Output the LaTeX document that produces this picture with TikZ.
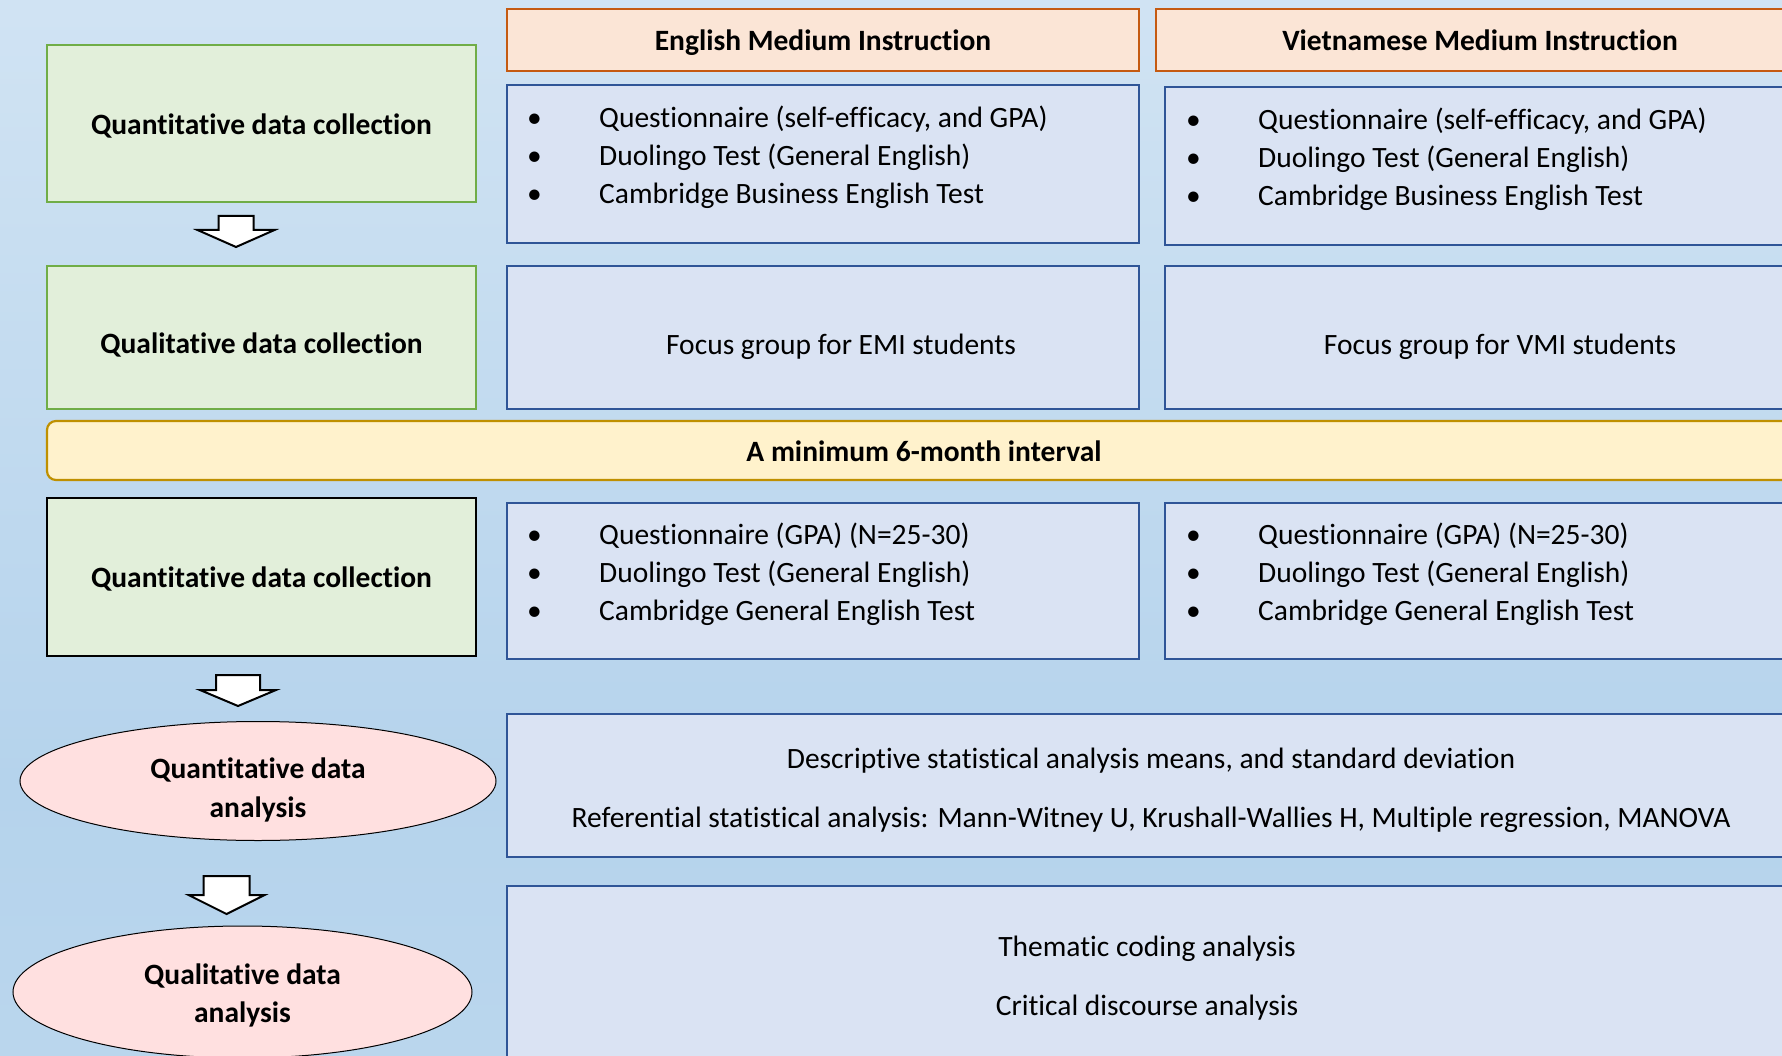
\documentclass[tikz,border=0pt]{standalone}
\usepackage{fontspec}
\setmainfont{Carlito}[Ligatures=NoCommon]
\usetikzlibrary{shapes.geometric}
\definecolor{bgtop}{HTML}{E3EEF8}
\definecolor{bgmid}{HTML}{B5D3EC}
\definecolor{bgbot}{HTML}{C3DCF0}
\definecolor{gfill}{HTML}{E2EFDA}
\definecolor{gline}{HTML}{70AD47}
\definecolor{ofill}{HTML}{FBE5D6}
\definecolor{oline}{HTML}{C55A11}
\definecolor{bfill}{HTML}{DAE3F3}
\definecolor{bline}{HTML}{2F5597}
\definecolor{yfill}{HTML}{FFF2CC}
\definecolor{yline}{HTML}{BF9000}
\definecolor{pfill}{HTML}{FFE0E0}
\pgfdeclareverticalshading{bgshade}{100bp}{color(0bp)=(bgbot); color(38bp)=(bgmid); color(100bp)=(bgtop)}
\newcommand{\fsz}{\fontsize{29.5}{38}\selectfont}
\newcommand{\blockarrow}[6]{% cx, top, wingy, tipy, stemhalf, headhalf
  \draw[arrowsty] (#1-#5,#2) -- (#1+#5,#2) -- (#1+#5,#3) -- (#1+#6,#3) -- (#1,#4) -- (#1-#6,#3) -- (#1-#5,#3) -- cycle;}
\begin{document}
\begin{tikzpicture}[x=1pt,y=-1pt,
  greenbox/.style={draw=gline, fill=gfill, line width=1.3pt, minimum width=429, minimum height=#1, font=\bfseries\fsz, inner sep=0, text height=21.5pt, text depth=0pt},
  headbox/.style={draw=oline, fill=ofill, line width=2pt, minimum height=62, font=\bfseries\fsz, inner sep=0, text height=21.5pt, text depth=0pt},
  bluebox/.style={draw=bline, fill=bfill, line width=2.2pt, inner sep=0},
  txt/.style={font=\fsz, inner sep=0},
  stxt/.style={font=\fsz, inner sep=0, text height=19pt, text depth=0pt},
  btxt/.style={font=\bfseries\fsz, inner sep=0, align=center},
  pinkell/.style={ellipse, draw=black, fill=pfill, line width=1pt, inner sep=0},
  arrowsty/.style={draw=black, fill=white, line width=2pt, line join=miter},
  listtab/.style={txt, anchor=west}
]
\useasboundingbox (0,0) rectangle (1782,1056);
\clip (0,0) rectangle (1782,1056);
\fill[shading=bgshade] (0,0) rectangle (1782,1056);

% left column
\node[greenbox=157] (qn1) at (261.5,123.5) {Quantitative data collection};
\node[greenbox=143, text height=32.5pt] (ql1) at (261.5,337.5) {Qualitative data collection};
\node[greenbox=158, draw=black] (qn2) at (261.5,577) {Quantitative data collection};

% headers
\node[headbox, minimum width=632] (emih) at (823,40) {English Medium Instruction};
\node[headbox, minimum width=648] (vmih) at (1480,40) {Vietnamese Medium Instruction};

% list boxes row 1
\node[bluebox, minimum width=632, minimum height=158] (emi1) at (823,164) {};
\node[bluebox, minimum width=640, minimum height=158] (vmi1) at (1485,166) {};
\node[listtab] (emi1t) at (527,157.5) {\begin{tabular}{@{}p{72pt}@{}l@{}}\textbullet & Questionnaire (self-efficacy, and GPA)\\ \textbullet & Duolingo Test (General English)\\ \textbullet & Cambridge Business English Test\end{tabular}};
\node[listtab] (vmi1t) at (1186,159.5) {\begin{tabular}{@{}p{72pt}@{}l@{}}\textbullet & Questionnaire (self-efficacy, and GPA)\\ \textbullet & Duolingo Test (General English)\\ \textbullet & Cambridge Business English Test\end{tabular}};

% focus groups
\node[bluebox, minimum width=632, minimum height=143] (emif) at (823,337.5) {};
\node[bluebox, minimum width=640, minimum height=143] (vmif) at (1485,337.5) {};
\node[stxt] (emift) at (841,345.5) {Focus group for EMI students};
\node[stxt] (vmift) at (1500,345.5) {Focus group for VMI students};

% interval
\node[draw=yline, fill=yfill, line width=2.2pt, rounded corners=9pt, minimum width=1754, minimum height=59, inner sep=0] (intv) at (924,450.5) {};
\node[btxt, text height=21.5pt, text depth=0pt] (intvt) at (924,451) {A minimum 6-month interval};

% list boxes row 2
\node[bluebox, minimum width=632, minimum height=156] (emi2) at (823,581) {};
\node[bluebox, minimum width=640, minimum height=156] (vmi2) at (1485,581) {};
\node[listtab] (emi2t) at (527,574.5) {\begin{tabular}{@{}p{72pt}@{}l@{}}\textbullet & Questionnaire (GPA) (N=25-30)\\ \textbullet & Duolingo Test (General English)\\ \textbullet & Cambridge General English Test\end{tabular}};
\node[listtab] (vmi2t) at (1186,574.5) {\begin{tabular}{@{}p{72pt}@{}l@{}}\textbullet & Questionnaire (GPA) (N=25-30)\\ \textbullet & Duolingo Test (General English)\\ \textbullet & Cambridge General English Test\end{tabular}};

% analysis boxes
\node[bluebox, minimum width=1288, minimum height=143] (ana1) at (1151,785.5) {};
\node[txt, align=center, font=\fontsize{29.5}{59}\selectfont] (ana1t) at (1151,790) {Descriptive statistical analysis means, and standard deviation\\Referential statistical analysis: Mann-Witney U, Krushall-Wallies H, Multiple regression, MANOVA};
\node[bluebox, minimum width=1288, minimum height=214] (ana2) at (1151,993) {};
\node[txt, align=center, font=\fontsize{29.5}{59}\selectfont] (ana2t) at (1147,978) {Thematic coding analysis\\Critical discourse analysis};

% ellipses
\node[pinkell, minimum width=476, minimum height=119] (e1) at (258,781) {};
\node[btxt, font=\bfseries\fontsize{29.5}{39}\selectfont] (e1t) at (258,790) {Quantitative data\\analysis};
\node[pinkell, minimum width=459, minimum height=132] (e2) at (242.5,992) {};
\node[btxt, font=\bfseries\fontsize{29.5}{38}\selectfont] (e2t) at (242.5,995.5) {Qualitative data\\analysis};

% block arrows
\blockarrow{236}{216}{230}{247}{17.5}{38.5}
\blockarrow{238}{675}{690}{706}{22}{38}
\blockarrow{226.5}{876}{895}{914}{23}{38}
\end{tikzpicture}
\end{document}
